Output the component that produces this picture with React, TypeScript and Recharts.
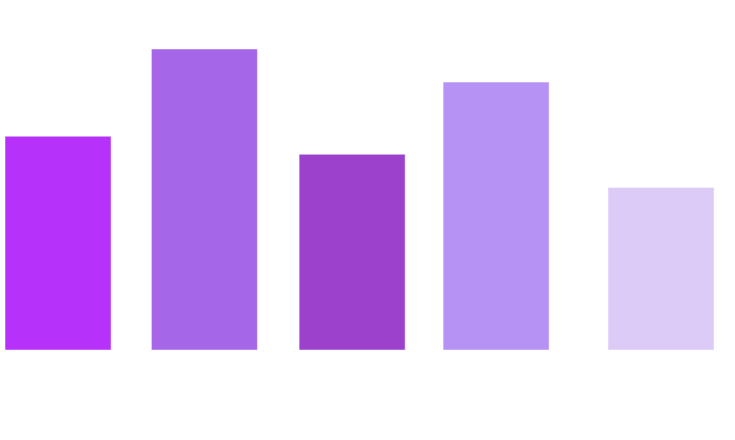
import { BarChart, Bar, XAxis, YAxis, Cell } from "recharts";

// x value of each bar on a numeric axis (spacing is uneven in the source)
const xValues = [1, 1.971, 2.951, 3.906, 5];
const values = [71, 100, 65, 89, 54];
const colors = ["#b632fa", "#a666e8", "#9c41cc", "#b692f4", "#dccbf7"];

const data = xValues.map((x, i) => ({ x, value: values[i] }));

export default function App() {
  return (
    <div style={{ position: "fixed", left: 0, top: 0, width: 735, height: 440, background: "#fff" }}>
      <BarChart
        width={735}
        height={440}
        data={data}
        margin={{ top: 49, right: 21, bottom: 90, left: 5 }}
        barSize={106}
      >
        <XAxis
          dataKey="x"
          type="number"
          domain={[1, 5]}
          padding={{ left: 53, right: 53 }}
          hide
        />
        <YAxis domain={[0, 100]} hide />
        <Bar dataKey="value" isAnimationActive={false} stroke="#ffffff" strokeOpacity={0.45} strokeWidth={1}>
          {data.map((_, i) => (
            <Cell key={`cell-${i}`} fill={colors[i]} />
          ))}
        </Bar>
      </BarChart>
    </div>
  );
}
